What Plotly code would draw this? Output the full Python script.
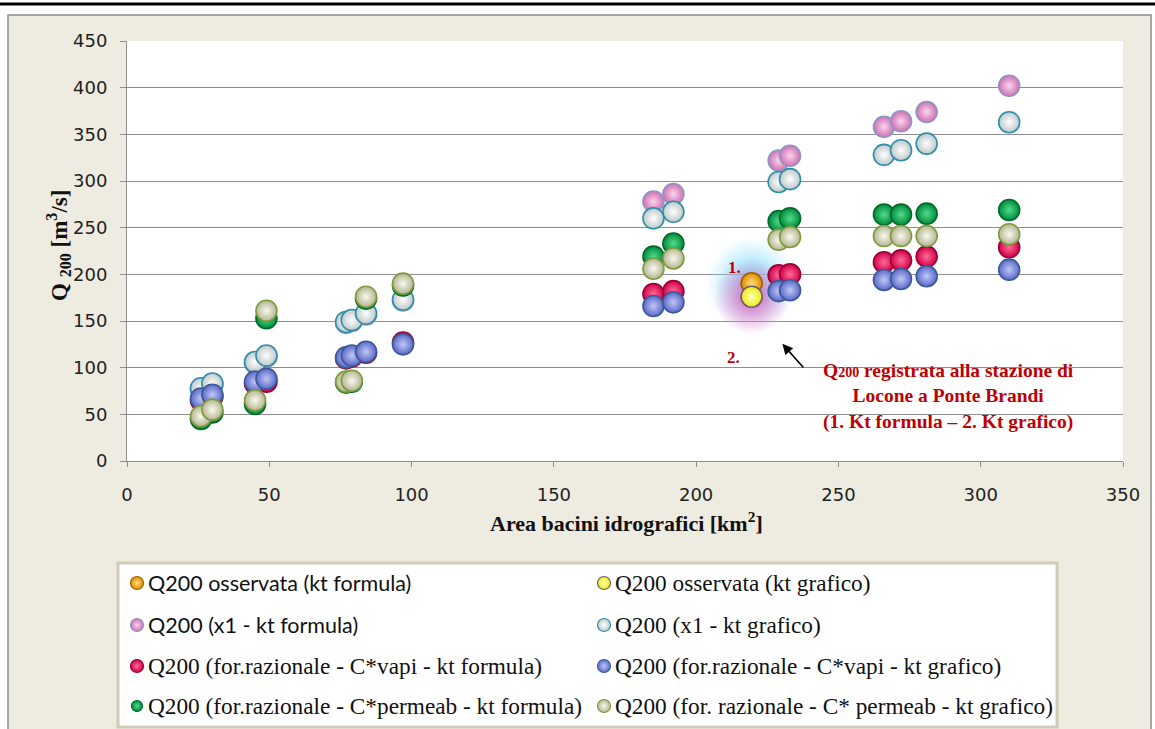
import plotly.graph_objects as go

W, H = 1155, 729

# ---------------- data ----------------
area = [26, 30, 45, 49, 77, 79, 84, 97, 185, 192, 229, 233, 266, 272, 281, 310]
q_x1_formula = [77, 82, 105, 112, 148, 150, 157, 172, 278, 286, 322, 327, 358, 364, 374, 402]
q_x1_grafico = [78, 83, 106, 113, 149, 151, 158, 173, 260, 267, 299, 302, 328, 333, 340, 363]
q_vapi_formula = [65, 69, 83, 85, 110, 112, 116, 127, 179, 182, 199, 200, 213, 215, 219, 229]
q_vapi_grafico = [67, 71, 85, 88, 111, 113, 117, 125, 166, 170, 182, 183, 194, 195, 198, 205]
q_perm_formula = [45, 52, 61, 153, 84, 85, 174, 188, 219, 233, 257, 260, 264, 264, 265, 269]
q_perm_grafico = [48, 55, 65, 161, 85, 86, 176, 190, 206, 217, 237, 240, 241, 241, 241, 243]
area_obs = [219.5]
q_obs_formula = [190.5]
q_obs_grafico = [176]

series_names = [
    "Q200 osservata (kt formula)",
    "Q200 osservata (kt grafico)",
    "Q200 (x1 - kt formula)",
    "Q200 (x1 - kt grafico)",
    "Q200 (for.razionale - C*vapi - kt formula)",
    "Q200 (for.razionale - C*vapi - kt grafico)",
    "Q200 (for.razionale - C*permeab - kt formula)",
    "Q200 (for. razionale - C* permeab - kt grafico)",
]
series_x = [area_obs, area_obs, area, area, area, area, area, area]
series_y = [q_obs_formula, q_obs_grafico, q_x1_formula, q_x1_grafico,
            q_vapi_formula, q_vapi_grafico, q_perm_formula, q_perm_grafico]

x_ticks = [0, 50, 100, 150, 200, 250, 300, 350]
y_ticks = [0, 50, 100, 150, 200, 250, 300, 350, 400, 450]

# ---------------- styles ----------------
# (edge colour, centre highlight, rim)
ball_styles = [
    ("#E08A00", "#FFE27A", "#A06000"),
    ("#EDED00", "#FFFFC8", "#6B5B85"),
    ("#D070B0", "#F9D6EE", "#8A98C8"),
    ("#BFC8CA", "#FFFFFF", "#2E8FA8"),
    ("#D0004A", "#FF6A95", "#9A0035"),
    ("#5A68C8", "#C0C8F6", "#3A5A98"),
    ("#008A3A", "#52DB8E", "#006A2A"),
    ("#B4B494", "#FAFAEE", "#7F9A3A"),
]
sans_font = "Lato"
serif_font = "Liberation Serif"
tick_font = "DejaVu Sans"
red_txt = "#C00000"


def fx(px):
    return px / W


def fy(py):
    return 1 - py / H


PLOT_L, PLOT_R, PLOT_T, PLOT_B = 127, 1123, 41, 461

fig = go.Figure()

# glow around observed points
fig.add_trace(go.Scatter(
    x=area_obs, y=q_obs_formula, mode="markers", showlegend=False, hoverinfo="skip",
    marker=dict(size=92, color="rgba(140,225,250,0)",
                gradient=dict(type="radial", color="rgba(100,212,245,1)"),
                line=dict(width=0))))
fig.add_trace(go.Scatter(
    x=area_obs, y=q_obs_grafico, mode="markers", showlegend=False, hoverinfo="skip",
    marker=dict(size=76, color="rgba(235,120,200,0)",
                gradient=dict(type="radial", color="rgba(225,95,185,1)"),
                line=dict(width=0))))

for i, name in enumerate(series_names):
    base, hi, rim = ball_styles[i]
    fig.add_trace(go.Scatter(
        x=series_x[i], y=series_y[i], mode="markers", name=name, showlegend=False,
        marker=dict(size=21, color=base,
                    gradient=dict(type="radial", color=hi),
                    line=dict(color=rim, width=1.6))))

# ---------------- custom legend (own overlay axes in pixel units) ----------------
leg_rows = [583, 625, 666, 706]
leg_cols_marker = [137, 604]
leg_cols_text = [146, 613]
for i, name in enumerate(series_names):
    base, hi, rim = ball_styles[i]
    r, c = i // 2, i % 2
    fig.add_trace(go.Scatter(
        x=[leg_cols_marker[c]], y=[leg_rows[r]], xaxis="x2", yaxis="y2",
        mode="markers", showlegend=False, hoverinfo="skip",
        marker=dict(size=13 if i != 6 else 11, color=base,
                    gradient=dict(type="radial", color=hi),
                    line=dict(color=rim, width=1.2))))

annotations = []
for i, name in enumerate(series_names):
    r, c = i // 2, i % 2
    use_sans = (c == 0 and r < 2)
    annotations.append(dict(
        x=fx(leg_cols_text[c]), y=fy(leg_rows[r]), xref="paper", yref="paper",
        xanchor="left", yanchor="middle", showarrow=False, text=name,
        font=dict(family=sans_font if use_sans else serif_font,
                  size=21.5 if use_sans else 23.3, color="#111")))

# axis titles
annotations.append(dict(
    x=fx(58), y=fy(246), xref="paper", yref="paper", textangle=-90,
    showarrow=False, xanchor="center", yanchor="middle",
    text="<b>Q <sub>200</sub> [m<sup>3</sup>/s]</b>",
    font=dict(family=serif_font, size=23, color="#111")))
annotations.append(dict(
    x=fx(626), y=fy(522), xref="paper", yref="paper",
    showarrow=False, xanchor="center", yanchor="middle",
    text="<b>Area bacini idrografici [km<sup>2</sup>]</b>",
    font=dict(family=serif_font, size=22, color="#111")))

# red annotation
annotations.append(dict(
    x=fx(948), y=fy(396), xref="paper", yref="paper",
    showarrow=False, xanchor="center", yanchor="middle", align="center",
    text=("<b>Q<span style='font-size:14px'>200</span> registrata alla stazione di<br>"
          "Locone a Ponte Brandi<br>(1. Kt formula – 2. Kt grafico)</b>"),
    font=dict(family=serif_font, size=19.5, color=red_txt)))
annotations.append(dict(
    x=fx(734), y=fy(268), xref="paper", yref="paper", showarrow=False,
    text="<b>1.</b>", font=dict(family=serif_font, size=17, color=red_txt)))
annotations.append(dict(
    x=fx(733), y=fy(357), xref="paper", yref="paper", showarrow=False,
    text="<b>2.</b>", font=dict(family=serif_font, size=17, color=red_txt)))
# arrow
annotations.append(dict(
    x=230.3, y=125.5, xref="x", yref="y", ax=24, ay=27, axref="pixel", ayref="pixel",
    showarrow=True, arrowhead=2, arrowsize=1.3, arrowwidth=1.6, arrowcolor="#000",
    text=" "))

shapes = [
    # top black rule
    dict(type="line", xref="paper", yref="paper", x0=0, x1=1, y0=fy(4), y1=fy(4),
         line=dict(color="#000", width=3), layer="below"),
    # beige chart frame
    dict(type="rect", xref="paper", yref="paper", x0=fx(8), x1=fx(1151), y0=fy(15), y1=fy(735),
         fillcolor="#EEECE1", line=dict(color="#8C8C8C", width=1.5), layer="below"),
    # white plot area
    dict(type="rect", xref="paper", yref="paper", x0=fx(PLOT_L), x1=fx(PLOT_R),
         y0=fy(PLOT_B), y1=fy(PLOT_T), fillcolor="#FFFFFF", line=dict(width=0), layer="below"),
    # legend box
    dict(type="rect", xref="paper", yref="paper", x0=fx(118), x1=fx(1057), y0=fy(727), y1=fy(563),
         fillcolor="#FFFFFF", line=dict(color="#D2CCB6", width=3), layer="below"),
]

grid_col = "#8E8E8E"
fig.update_layout(
    width=W, height=H, template="none",
    margin=dict(l=0, r=0, t=0, b=0),
    paper_bgcolor="#FFFFFF", plot_bgcolor="rgba(0,0,0,0)",
    showlegend=False,
    xaxis=dict(domain=[fx(PLOT_L), fx(PLOT_R)], range=[0, 350], tickvals=x_ticks,
               showgrid=False, zeroline=False, showline=True, linecolor=grid_col, linewidth=1,
               ticks="outside", ticklen=5, tickcolor=grid_col, automargin=False,
               ticklabelstandoff=12,
               tickfont=dict(family=tick_font, size=18, color="#222"), anchor="y"),
    yaxis=dict(domain=[fy(PLOT_B), fy(PLOT_T)], range=[0, 450], tickvals=y_ticks,
               showgrid=True, gridcolor=grid_col, gridwidth=1, zeroline=False,
               showline=True, linecolor=grid_col, linewidth=1,
               ticks="outside", ticklen=6, tickcolor=grid_col, automargin=False,
               ticklabelstandoff=9,
               tickfont=dict(family=tick_font, size=18, color="#222"), anchor="x"),
    xaxis2=dict(domain=[0, 1], range=[0, W], visible=False, anchor="y2", fixedrange=True),
    yaxis2=dict(domain=[0, 1], range=[H, 0], visible=False, anchor="x2", fixedrange=True),
    annotations=annotations,
    shapes=shapes,
)

fig.write_html("out.html", config={"displayModeBar": False},
               post_script="document.body.style.margin='0';document.body.style.overflow='hidden';")
